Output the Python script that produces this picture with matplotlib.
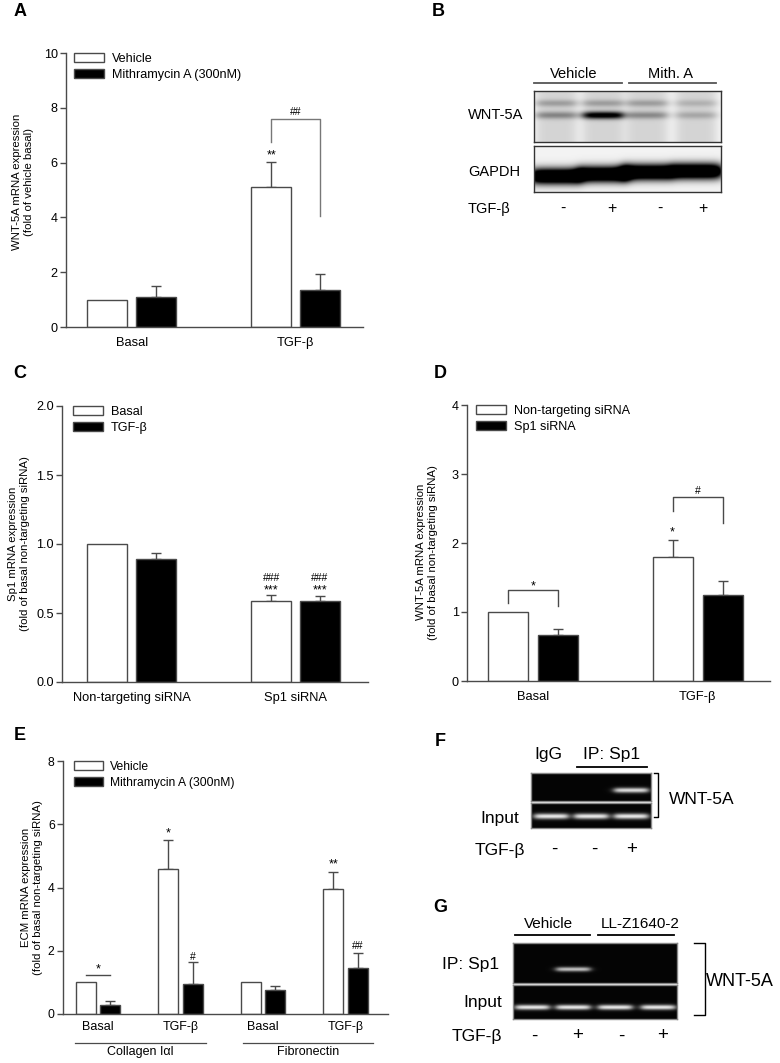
import numpy as np
import matplotlib
matplotlib.use('Agg')
import matplotlib.pyplot as plt
from matplotlib.lines import Line2D

plt.rcParams['font.family'] = ['Liberation Sans', 'DejaVu Sans']

# ---------------- data ----------------
a_groups = ['Basal', 'TGF-β']
a_vehicle = [1.0, 5.12]
a_vehicle_err = [0.0, 0.89]
a_mith = [1.09, 1.35]
a_mith_err = [0.42, 0.58]

c_groups = ['Non-targeting siRNA', 'Sp1 siRNA']
c_basal = [1.0, 0.59]
c_basal_err = [0.0, 0.04]
c_tgf = [0.89, 0.59]
c_tgf_err = [0.045, 0.03]

d_groups = ['Basal', 'TGF-β']
d_nt = [1.0, 1.79]
d_nt_err = [0.0, 0.26]
d_sp1 = [0.67, 1.24]
d_sp1_err = [0.08, 0.21]

e_groups = ['Basal', 'TGF-β', 'Basal', 'TGF-β']
e_vehicle = [1.0, 4.58, 1.0, 3.95]
e_vehicle_err = [0.0, 0.92, 0.0, 0.55]
e_mith = [0.28, 0.94, 0.76, 1.46]
e_mith_err = [0.12, 0.72, 0.14, 0.46]
e_genes = ['Collagen Iαl', 'Fibronectin']

b_tgf = ['-', '+', '-', '+']
b_wnt5a_band = [0.32, 0.95, 0.30, 0.18]
b_wnt5a_upper = [0.22, 0.22, 0.22, 0.14]
b_gapdh_band = [1.0, 1.0, 1.0, 1.0]
f_tgf = ['-', '-', '+']
f_ip_band = [0.0, 0.0, 0.85]
f_input_band = [0.9, 0.9, 0.9]
g_tgf = ['-', '+', '-', '+']
g_ip_band = [0.0, 0.75, 0.0, 0.0]
g_input_band = [0.9, 0.9, 0.9, 0.9]

EDGE = '#4a4a4a'
FS = 9.1       # ticks / legend
XFS = 9.3      # category labels
YLFS = 8.2     # y-axis labels
STAR = 9
HASH = 7.5
BFS = 10.5     # blot B text
GFS = 12.5     # gel F/G text

W, H = 780, 1063
fig = plt.figure(figsize=(7.8, 10.63), dpi=100)


def rect(x0, y0, x1, y1):
    return [x0 / W, 1 - y1 / H, (x1 - x0) / W, (y1 - y0) / H]


def P(x, y):
    return (x / W, 1 - y / H)


def style_axes(ax, ylim, yticks, yfmt, fs=FS, xfs=XFS):
    for s in ['top', 'right']:
        ax.spines[s].set_visible(False)
    for s in ['left', 'bottom']:
        ax.spines[s].set_color(EDGE)
        ax.spines[s].set_linewidth(1.0)
    ax.set_ylim(*ylim)
    ax.set_yticks(yticks)
    ax.set_yticklabels([yfmt.format(v) for v in yticks])
    ax.tick_params(axis='y', direction='out', length=4, width=1, color=EDGE,
                   labelsize=fs, pad=2)
    ax.tick_params(axis='x', length=0, labelsize=xfs, pad=7)


def bars(ax, groups, s1, e1, s2, e2, width, offset, labels):
    x = np.arange(len(groups))
    ax.bar(x - offset, s1, width, color='white', edgecolor=EDGE, lw=1.0,
           label=labels[0], zorder=2)
    ax.bar(x + offset, s2, width, color='black', edgecolor=EDGE, lw=1.0,
           label=labels[1], zorder=2)
    for xs, vals, errs in [(x - offset, s1, e1), (x + offset, s2, e2)]:
        vals = np.asarray(vals)
        errs = np.asarray(errs)
        m = errs > 0
        ax.errorbar(xs[m], vals[m], yerr=[np.zeros(m.sum()), errs[m]], fmt='none',
                    ecolor=EDGE, elinewidth=1.0, capsize=3.5, capthick=1.0, zorder=1)
    ax.set_xticks(x)
    ax.set_xticklabels(groups)
    return x


def legend(ax, dx, fs=FS):
    ax.legend(loc='upper left', bbox_to_anchor=(dx, 1.0), frameon=False, fontsize=fs,
              handlelength=2.4, handleheight=0.72, handletextpad=0.6,
              labelspacing=0.3, borderpad=0, borderaxespad=0)


def bracket(ax, x1, x2, ytop, yl, yr, color=EDGE):
    ax.plot([x1, x1, x2, x2], [yl, ytop, ytop, yr], color=color, lw=1.0, zorder=3)


# ---------------- Panel A ----------------
axA = fig.add_axes(rect(66, 53, 363, 327))
bars(axA, a_groups, a_vehicle, a_vehicle_err, a_mith, a_mith_err, 0.244, 0.149,
     ['Vehicle', 'Mithramycin A (300nM)'])
axA.set_xlim(-0.40, 1.41)
style_axes(axA, (0, 10), [0, 2, 4, 6, 8, 10], '{:g}')
legend(axA, 0.027)
axA.set_ylabel('WNT-5A mRNA expression\n(fold of vehicle basal)', fontsize=YLFS)
axA.yaxis.set_label_coords(-0.108, 0.53)
axA.text(1 - 0.149, 6.25, '**', ha='center', va='center', fontsize=STAR)
bracket(axA, 1 - 0.149, 1 + 0.149, 7.6, 6.75, 4.05, color='#777777')
axA.text(1, 7.85, '##', ha='center', va='center', fontsize=HASH)

# ---------------- Panel C ----------------
axC = fig.add_axes(rect(62, 406, 368, 682))
bars(axC, c_groups, c_basal, c_basal_err, c_tgf, c_tgf_err, 0.244, 0.149,
     ['Basal', 'TGF-β'])
axC.set_xlim(-0.424, 1.442)
style_axes(axC, (0, 2.0), [0.0, 0.5, 1.0, 1.5, 2.0], '{:.1f}')
legend(axC, 0.036)
axC.set_ylabel('Sp1 mRNA expression\n(fold of basal non-targeting siRNA)', fontsize=YLFS)
axC.yaxis.set_label_coords(-0.105, 0.5)
for xx in [1 - 0.149, 1 + 0.149]:
    axC.text(xx, 0.757, '###', ha='center', va='center', fontsize=HASH)
    axC.text(xx, 0.662, '***', ha='center', va='center', fontsize=STAR)

# ---------------- Panel D ----------------
axD = fig.add_axes(rect(467, 405, 770, 681))
bars(axD, d_groups, d_nt, d_nt_err, d_sp1, d_sp1_err, 0.243, 0.152,
     ['Non-targeting siRNA', 'Sp1 siRNA'])
axD.set_xlim(-0.401, 1.44)
style_axes(axD, (0, 4), [0, 1, 2, 3, 4], '{:g}')
legend(axD, 0.03)
axD.set_ylabel('WNT-5A mRNA expression\n(fold of basal non-targeting siRNA)', fontsize=YLFS)
axD.yaxis.set_label_coords(-0.096, 0.467)
bracket(axD, -0.152, 0.152, 1.32, 1.13, 1.09)
axD.text(0, 1.37, '*', ha='center', va='center', fontsize=STAR)
axD.text(1 - 0.152, 2.15, '*', ha='center', va='center', fontsize=STAR)
bracket(axD, 1 - 0.152, 1 + 0.152, 2.67, 2.46, 2.29)
axD.text(1, 2.75, '#', ha='center', va='center', fontsize=HASH)

# ---------------- Panel E ----------------
axE = fig.add_axes(rect(63, 761, 388, 1014))
bars(axE, e_groups, e_vehicle, e_vehicle_err, e_mith, e_mith_err, 0.242, 0.148,
     ['Vehicle', 'Mithramycin A (300nM)'])
axE.set_xlim(-0.424, 3.515)
style_axes(axE, (0, 8), [0, 2, 4, 6, 8], '{:g}', fs=8.8, xfs=9.0)
legend(axE, 0.034, fs=8.7)
axE.set_ylabel('ECM mRNA expression\n(fold of basal non-targeting siRNA)', fontsize=YLFS)
axE.yaxis.set_label_coords(-0.063, 0.5)
axE.tick_params(axis='x', pad=5)
axE.plot([-0.148, 0.148], [1.23, 1.23], color=EDGE, lw=1.0)
axE.text(0, 1.4, '*', ha='center', va='center', fontsize=STAR)
axE.text(1 - 0.148, 5.7, '*', ha='center', va='center', fontsize=STAR)
axE.text(1 + 0.148, 1.8, '#', ha='center', va='center', fontsize=HASH)
axE.text(3 - 0.148, 4.74, '**', ha='center', va='center', fontsize=STAR)
axE.text(3 + 0.148, 2.16, '##', ha='center', va='center', fontsize=HASH)
for (x0, x1), name in zip([(75, 206), (243, 373)], e_genes):
    fig.add_artist(Line2D([x0 / W, x1 / W], [1 - 1043 / H] * 2, color=EDGE, lw=0.9))
    fig.text(*P((x0 + x1) / 2, 1052), name, ha='center', va='center', fontsize=9.0)


# ---------------- blot helpers ----------------
def lane_profile(xx, c, halfw, soft):
    return 1.0 / (1.0 + np.exp((np.abs(xx - c) - halfw) / soft))


def make_img(w, h, centers, halfw, soft, bands, bg=0.0, lane_bg=0.0):
    yy, xx = np.mgrid[0:h:0.5, 0:w:0.5]
    img = np.full(xx.shape, bg)
    for i, c in enumerate(centers):
        lp = lane_profile(xx, c, halfw, soft)
        img = img + lane_bg * lp
        for amps, yc, sy in bands:
            yci = yc[i] if np.ndim(yc) else yc
            img = img + amps[i] * np.exp(-0.5 * ((yy - yci) / sy) ** 2) * lp
    return np.clip(img, 0, 1)


def blot_axes(box, img, cmap, edge='#333333'):
    ax = fig.add_axes(rect(*box))
    ax.imshow(img, cmap=cmap, vmin=0, vmax=1, aspect='auto', interpolation='bilinear')
    ax.set_xticks([])
    ax.set_yticks([])
    for s in ax.spines.values():
        s.set_color(edge)
        s.set_linewidth(1.0)
    return ax


# ---------------- Panel B ----------------
bw, bh = 187, 51
img_w = make_img(bw, bh, [22, 69, 113, 162], 20, 3,
                 [(b_wnt5a_upper, 12, 2.5), (b_wnt5a_band, 24, 2.6)],
                 bg=0.03, lane_bg=0.14)
blot_axes((534, 91, 721, 142), img_w, 'gray_r')
gh = 46
img_g = make_img(bw, gh, [22, 69, 113, 162], 25, 3,
                 [(b_gapdh_band, [30, 28, 26, 25], 5.5)], bg=0.03)
img_g = np.clip(img_g * 1.6, 0, 1)
blot_axes((534, 146, 721, 192), img_g, 'gray_r')
fig.text(*P(468, 115), 'WNT-5A', ha='left', va='center', fontsize=BFS)
fig.text(*P(468, 172), 'GAPDH', ha='left', va='center', fontsize=BFS)
fig.text(*P(468, 209), 'TGF-β', ha='left', va='center', fontsize=BFS)
for xx, s in zip([563, 612, 660, 703], b_tgf):
    fig.text(*P(xx, 208), s, ha='center', va='center', fontsize=BFS + 1)
fig.text(*P(574, 74), 'Vehicle', ha='center', va='center', fontsize=BFS)
fig.text(*P(671, 74), 'Mith. A', ha='center', va='center', fontsize=BFS)
for x0, x1 in [(534, 622), (629, 716)]:
    fig.add_artist(Line2D([x0 / W, x1 / W], [1 - 83 / H] * 2, color='#555555', lw=1.3))

# ---------------- Panel F ----------------
img_fi = make_img(120, 28, [20, 60, 100], 17, 2, [(f_ip_band, 17, 1.8)], bg=0.02)
blot_axes((531, 773, 651, 801), img_fi, 'gray', edge='#888888')
img_fn = make_img(120, 25, [20, 60, 100], 17, 2, [(f_input_band, 13, 2.0)], bg=0.02)
blot_axes((531, 803, 651, 828), img_fn, 'gray', edge='#888888')
fig.text(*P(548, 755), 'IgG', ha='center', va='center', fontsize=GFS)
fig.text(*P(612, 755), 'IP: Sp1', ha='center', va='center', fontsize=GFS)
fig.add_artist(Line2D([577 / W, 647 / W], [1 - 767 / H] * 2, color='black', lw=1.3))
fig.text(*P(519, 818), 'Input', ha='right', va='center', fontsize=GFS)
fig.add_artist(Line2D([654 / W, 658 / W, 658 / W, 654 / W],
                      [1 - 773 / H, 1 - 773 / H, 1 - 817 / H, 1 - 817 / H],
                      color='black', lw=1.0))
fig.text(*P(669, 800), 'WNT-5A', ha='left', va='center', fontsize=GFS)
fig.text(*P(475, 850), 'TGF-β', ha='left', va='center', fontsize=GFS)
for xx, s in zip([554, 594, 632], f_tgf):
    fig.text(*P(xx, 849), s, ha='center', va='center', fontsize=GFS + 1)

# ---------------- Panel G ----------------
img_gi = make_img(164, 40, [19, 60, 102, 145], 17, 2, [(g_ip_band, 26, 1.6)], bg=0.02)
blot_axes((513, 943, 677, 983), img_gi, 'gray', edge='#888888')
img_gn = make_img(164, 34, [19, 60, 102, 145], 17, 2, [(g_input_band, 22, 1.8)], bg=0.02)
blot_axes((513, 985, 677, 1019), img_gn, 'gray', edge='#888888')
fig.text(*P(548, 924), 'Vehicle', ha='center', va='center', fontsize=11)
fig.text(*P(640, 924), 'LL-Z1640-2', ha='center', va='center', fontsize=11)
for x0, x1 in [(515, 590), (598, 674)]:
    fig.add_artist(Line2D([x0 / W, x1 / W], [1 - 935 / H] * 2, color='black', lw=1.3))
fig.text(*P(499, 965), 'IP: Sp1', ha='right', va='center', fontsize=GFS)
fig.text(*P(502, 1002), 'Input', ha='right', va='center', fontsize=GFS)
fig.add_artist(Line2D([694 / W, 705 / W, 705 / W, 694 / W],
                      [1 - 943 / H, 1 - 943 / H, 1 - 1015 / H, 1 - 1015 / H],
                      color='black', lw=1.0))
fig.text(*P(706, 982), 'WNT-5A', ha='left', va='center', fontsize=GFS + 0.5)
fig.text(*P(452, 1037), 'TGF-β', ha='left', va='center', fontsize=GFS)
for xx, s in zip([534, 578, 621, 663], g_tgf):
    fig.text(*P(xx, 1036), s, ha='center', va='center', fontsize=GFS + 1)

# ---------------- panel letters ----------------
for (x, y), l in zip([(20, 12), (438, 12), (20, 373), (440, 373), (20, 735), (440, 742), (440, 908)],
                     'ABCDEFG'):
    fig.text(*P(x, y), l, ha='center', va='center', fontsize=13, fontweight='bold')

fig.savefig('out.png', dpi=100)
